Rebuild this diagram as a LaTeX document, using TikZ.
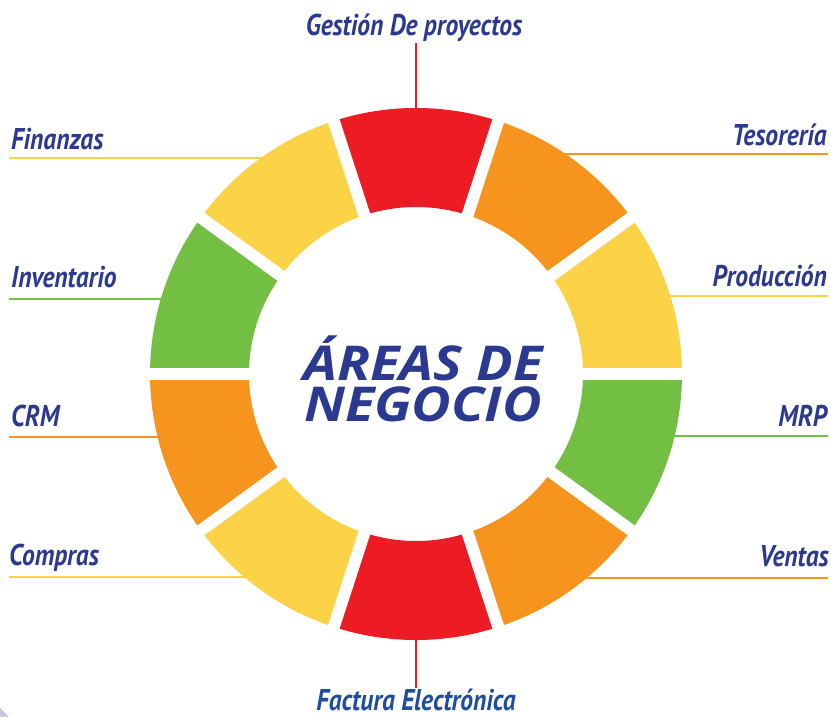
\documentclass[tikz,border=0pt]{standalone}
\usepackage{fontspec}
\newfontfamily\labelfont[FakeStretch=0.85]{PT Sans}
\newfontfamily\centerfont[FakeStretch=1.13]{Open Sans}
\definecolor{segred}{HTML}{ED1C24}
\definecolor{segorange}{HTML}{F7941D}
\definecolor{segyellow}{HTML}{FCD247}
\definecolor{seggreen}{HTML}{72BF44}
\definecolor{txtblue}{HTML}{2B3990}
\definecolor{txtblue2}{HTML}{1F4E9D}
\definecolor{cornergray}{HTML}{C9C5DC}
\tikzset{
  lbl/.style={inner sep=0pt, text=txtblue, font=\labelfont\bfseries\itshape\fontsize{30}{32}\selectfont},
  ctr/.style={inner sep=0pt, align=center, text=txtblue, font=\centerfont\bfseries\itshape\fontsize{48}{41}\selectfont},
  conn/.style={line width=2.6pt},
  gap/.style={white, line width=12pt}
}
\begin{document}
\begin{tikzpicture}[x=1pt,y=1pt]
\useasboundingbox (0,0) rectangle (831,717);
\fill[white] (0,0) rectangle (831,717);
\fill[cornergray] (0,0) -- (0,9) -- (9,0) -- cycle;
\coordinate (C) at (416,343);
% ring anchor points for connectors
\coordinate (rFin) at (266,559);
\coordinate (rInv) at (166,418);
\coordinate (rCRM) at (163,280);
\coordinate (rCom) at (250,140);
\coordinate (rTes) at (560,563);
\coordinate (rPro) at (665,421);
\coordinate (rMRP) at (669,281);
\coordinate (rVen) at (581,139);
\coordinate (rGes) at (416,600);
\coordinate (rFac) at (416,86);
% line free ends
\coordinate (eFin) at (9,559);
\coordinate (eInv) at (9,418);
\coordinate (eCRM) at (9,280);
\coordinate (eCom) at (9,140);
\coordinate (eTes) at (828,563);
\coordinate (ePro) at (828,421);
\coordinate (eMRP) at (828,281);
\coordinate (eVen) at (828,139);
\coordinate (eGes) at (416,674);
\coordinate (eFac) at (416,29);
% connectors
\draw[conn, segyellow] (eFin) -- (rFin);
\draw[conn, seggreen] (eInv) -- (rInv);
\draw[conn, segorange] (eCRM) -- (rCRM);
\draw[conn, segyellow] (eCom) -- (rCom);
\draw[conn, segorange] (eTes) -- (rTes);
\draw[conn, segyellow] (ePro) -- (rPro);
\draw[conn, seggreen] (eMRP) -- (rMRP);
\draw[conn, segorange] (eVen) -- (rVen);
\draw[line width=2pt, segred] (eGes) -- (rGes);
\draw[line width=2pt, segred] (eFac) -- (rFac);
% ring segments
\foreach \a/\col in {90/segred,54/segorange,18/segyellow,-18/seggreen,-54/segorange,-90/segred,-126/segyellow,-162/segorange,162/seggreen,126/segyellow}{
  \fill[\col, shift={(C)}] (\a-18:167pt) arc[start angle=\a-18, end angle=\a+18, radius=167pt]
     -- (\a+18:266pt) arc[start angle=\a+18, end angle=\a-18, radius=266pt] -- cycle;
}
\foreach \b in {0,36,...,324}{
  \draw[gap] (C) -- ++(\b:280pt);
}
\fill[white] (C) circle[radius=160pt];
% labels
\node[lbl, anchor=base west] (nFin) at (11,567) {Finanzas};
\node[lbl, anchor=base west] (nInv) at (11,429) {Inventario};
\node[lbl, anchor=base west] (nCRM) at (11,290) {CRM};
\node[lbl, anchor=base west] (nCom) at (9,151) {Compras};
\node[lbl, anchor=base east] (nTes) at (827,571) {Tesorería};
\node[lbl, anchor=base east] (nPro) at (827,430) {Producción};
\node[lbl, anchor=base east] (nMRP) at (827,290) {MRP};
\node[lbl, anchor=base east] (nVen) at (829,150) {Ventas};
\node[lbl, anchor=base] (nGes) at (414,681) {Gestión De proyectos};
\node[lbl, anchor=base, text=txtblue2] (nFac) at (416,6) {Factura Electrónica};
\node[ctr, anchor=base] (ctext) at (423,295) {ÁREAS DE\\NEGOCIO};
\end{tikzpicture}
\end{document}
